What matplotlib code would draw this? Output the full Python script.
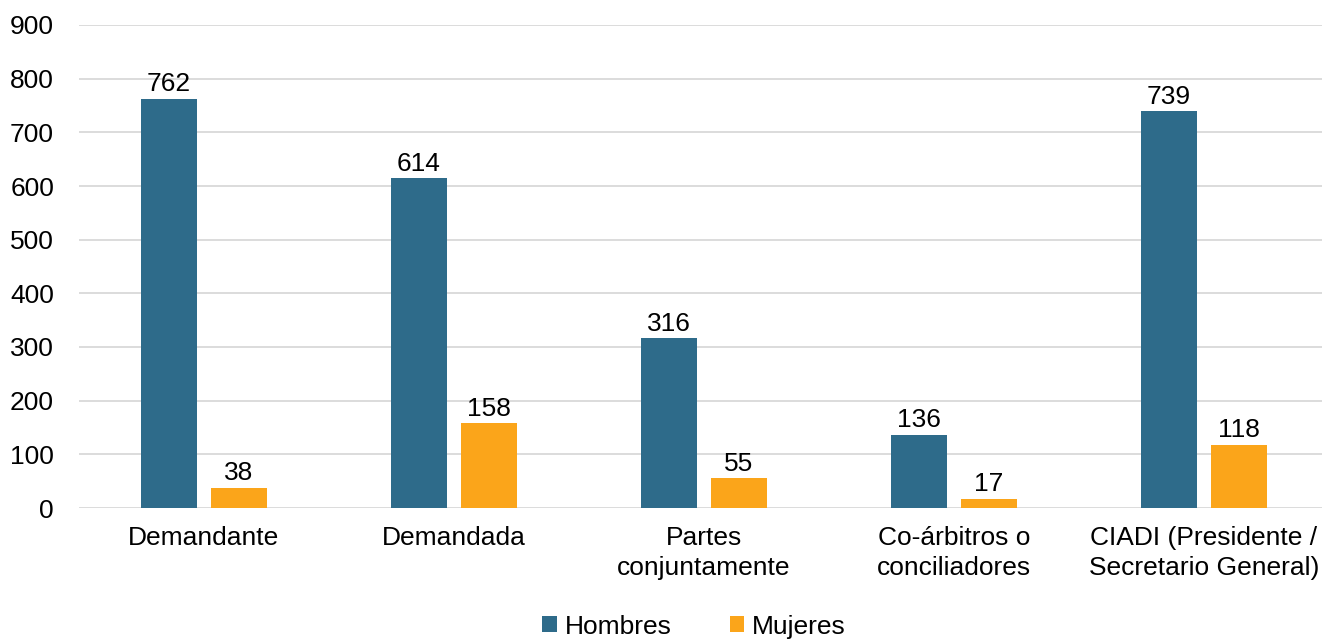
import matplotlib.pyplot as plt
import numpy as np

# datos
categorias = ['Demandante', 'Demandada', 'Partes\nconjuntamente',
              'Co-árbitros o\nconciliadores', 'CIADI (Presidente /\nSecretario General)']
hombres = [762, 614, 316, 136, 739]
mujeres = [38, 158, 55, 17, 118]

plt.rcParams['font.family'] = ['Liberation Sans', 'DejaVu Sans']

fig = plt.figure(figsize=(13.22, 6.43), dpi=100)
ax = fig.add_axes([79 / 1322, 1 - 508 / 643, 1250 / 1322, (508 - 25) / 643])

x = np.arange(len(categorias))
ancho = 0.224
b1 = ax.bar(x - 0.14, hombres, ancho, color='#2E6B8A', label='Hombres', zorder=3)
b2 = ax.bar(x + 0.14, mujeres, ancho, color='#FBA51A', label='Mujeres', zorder=3)

for barras in (b1, b2):
    for b in barras:
        ax.text(b.get_x() + b.get_width() / 2, b.get_height() + 5, str(int(b.get_height())),
                ha='center', va='bottom', fontsize=19, color='black')

ax.set_xlim(-0.5, 4.5)
ax.set_ylim(0, 900)
ax.set_yticks(range(0, 901, 100))
ax.set_xticks(x)
ax.set_xticklabels(categorias, fontsize=19, linespacing=1.3)
ax.tick_params(axis='y', labelsize=19, length=0, pad=18)
ax.tick_params(axis='x', length=0, pad=13)
ax.yaxis.grid(True, color='#D9D9D9', linewidth=1.3, zorder=0)
for s in ax.spines.values():
    s.set_visible(False)

fig.legend(handles=[b1, b2], loc='lower center', bbox_to_anchor=(0.525, -0.03), ncol=2,
           frameon=False, fontsize=19, handlelength=0.55, handleheight=0.55,
           handletextpad=0.3, columnspacing=2.2)

fig.savefig('out.png', dpi=100)
